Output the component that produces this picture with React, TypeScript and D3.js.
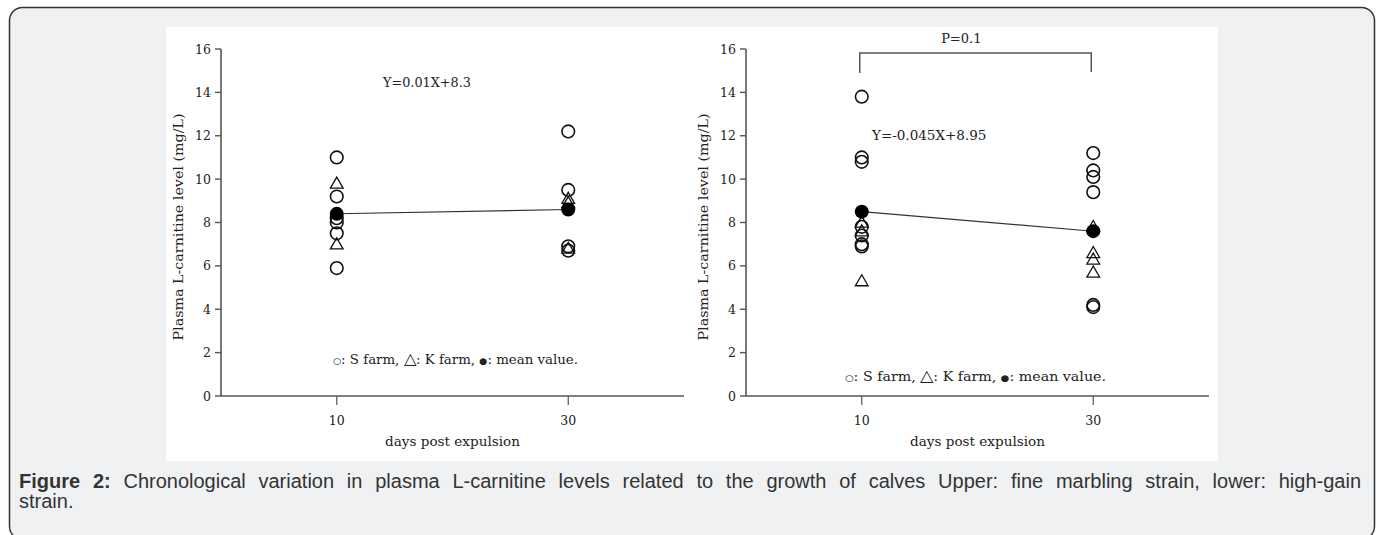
import React, { useLayoutEffect, useRef } from "react";
import * as d3 from "d3";

const days = [10, 30];
const yTicks = [0, 2, 4, 6, 8, 10, 12, 14, 16];
const xTicks = [10, 30];

const leftS10 = [11.0, 9.2, 8.2, 8.0, 7.5, 5.9];
const leftK10 = [9.8, 7.0];
const leftS30 = [12.2, 9.5, 6.9, 6.7];
const leftK30 = [9.1, 8.9, 6.8];
const leftMean = [8.4, 8.6];

const rightS10 = [13.8, 11.0, 10.8, 7.8, 7.4, 7.0, 6.9];
const rightK10 = [8.0, 7.6, 5.3];
const rightS30 = [11.2, 10.4, 10.1, 9.4, 4.2, 4.1];
const rightK30 = [7.8, 6.6, 6.3, 5.7];
const rightMean = [8.5, 7.6];

const captionLine1 =
  "Chronological variation in plasma L-carnitine levels related to the growth of calves Upper: fine marbling strain, lower: high-gain";
const captionLine2 = "strain.";

const W = 1378;
const H = 535;
const SERIF = "'DejaVu Serif', serif";
const SANS = "'Liberation Sans', Arial, sans-serif";
const INK = "#222";
const AXIS = "#555";

type PanelProps = {
  x0: number;
  s10: number[];
  k10: number[];
  s30: number[];
  k30: number[];
  mean: number[];
  eq: string;
  eqX: number;
  eqY: number;
  eqSize: number;
  legX: number;
  legY: number;
  legLen: number;
  bracket?: boolean;
};

function Panel(p: PanelProps) {
  const x = d3.scaleLinear().domain([0, 40]).range([p.x0, p.x0 + 463]);
  const y = d3.scaleLinear().domain([0, 16]).range([396, 49]);
  const tri = d3.symbol().type(d3.symbolTriangle).size(70)();
  const line = d3
    .line<number>()
    .x((_, i) => x(days[i]))
    .y((d) => y(d));
  const circles = (vals: number[], day: number) =>
    vals.map((v, i) => (
      <circle key={`c${day}-${i}`} cx={x(day)} cy={y(v)} r={6.3} fill="none" stroke="#111" strokeWidth={1.6} />
    ));
  const tris = (vals: number[], day: number) =>
    vals.map((v, i) => (
      <path key={`t${day}-${i}`} d={tri || ""} transform={`translate(${x(day)},${y(v) + 1})`} fill="none" stroke="#111" strokeWidth={1.3} />
    ));
  const left = x(0);
  return (
    <g>
      <line x1={left} x2={left} y1={y(16)} y2={y(0)} stroke={AXIS} strokeWidth={1.6} />
      {yTicks.map((t) => (
        <g key={t}>
          <line x1={left - 6} x2={left} y1={y(t)} y2={y(t)} stroke={AXIS} strokeWidth={1.4} />
          <text x={left - 10} y={y(t) + 4.5} textAnchor="end" fontFamily={SERIF} fontSize={12.5} fill={INK}>
            {t}
          </text>
        </g>
      ))}
      <line x1={left} x2={x(40)} y1={y(0)} y2={y(0)} stroke={AXIS} strokeWidth={1.6} />
      {xTicks.map((t) => (
        <g key={t}>
          <line x1={x(t)} x2={x(t)} y1={y(0)} y2={y(0) + 9} stroke={AXIS} strokeWidth={1.2} />
          <text x={x(t)} y={425} textAnchor="middle" fontFamily={SERIF} fontSize={12.5} fill={INK}>
            {t}
          </text>
        </g>
      ))}
      <text x={x(20)} y={446} textAnchor="middle" fontFamily={SERIF} fontSize={12.5} fill={INK} textLength={135} lengthAdjust="spacingAndGlyphs">
        days post expulsion
      </text>
      <text
        transform={`translate(${left - 38},227) rotate(-90)`}
        textAnchor="middle"
        fontFamily={SERIF}
        fontSize={12.5}
        fill={INK}
        textLength={227}
        lengthAdjust="spacingAndGlyphs"
      >
        Plasma L-carnitine level (mg/L)
      </text>
      <text x={p.eqX} y={p.eqY} fontFamily={SERIF} fontSize={p.eqSize} fill={INK}>
        {p.eq}
      </text>
      <text x={p.legX} y={p.legY} fontFamily={SERIF} fontSize={13} fill={INK} textLength={p.legLen} lengthAdjust="spacingAndGlyphs">
        <tspan fontSize={9}>○</tspan>
        <tspan>: S farm, </tspan>
        <tspan fontSize={16} fontFamily="'DejaVu Sans', sans-serif" fontWeight={200}>△</tspan>
        <tspan>: K farm, </tspan>
        <tspan fontSize={9}>●</tspan>
        <tspan>: mean value.</tspan>
      </text>
      {p.bracket && (
        <g>
          <path d={`M${x(10) - 2},${73} V${53} H${x(30) - 2} V${72}`} fill="none" stroke={AXIS} strokeWidth={1.5} />
          <text x={x(18.6)} y={43} textAnchor="middle" fontFamily={SERIF} fontSize={13} fill={INK}>
            P=0.1
          </text>
        </g>
      )}
      <path d={line(p.mean) || ""} fill="none" stroke="#333" strokeWidth={1.1} />
      {circles(p.s10, 10)}
      {circles(p.s30, 30)}
      {tris(p.k10, 10)}
      {tris(p.k30, 30)}
      {p.mean.map((v, i) => (
        <circle key={`m${i}`} cx={x(days[i])} cy={y(v)} r={7} fill="#000" />
      ))}
    </g>
  );
}

export default function App() {
  const capRef = useRef<SVGTextElement>(null);
  const cap2Ref = useRef<SVGTextElement>(null);
  useLayoutEffect(() => {
    const el = capRef.current;
    if (!el) return;
    const full = "Figure 2: " + captionLine1;
    const spaces = (full.match(/ /g) || []).length;
    el.setAttribute("word-spacing", "0");
    el.setAttribute("font-size", "18");
    const len18 = el.getComputedTextLength();
    const fs = Math.min(20, (18 * (1342 - spaces * 1.5)) / len18);
    el.setAttribute("font-size", String(fs));
    if (cap2Ref.current) cap2Ref.current.setAttribute("font-size", String(fs));
    const len = el.getComputedTextLength();
    el.setAttribute("word-spacing", String((1342 - len) / spaces));
  }, []);
  return (
    <svg width={W} height={H} style={{ position: "absolute", left: 0, top: 0, display: "block" }} xmlns="http://www.w3.org/2000/svg">
      <rect x={0} y={0} width={W} height={H} fill="#fff" />
      <rect x={9.5} y={7.5} width={1365} height={532} rx={13} ry={13} fill="#f0f1f3" stroke="#333" strokeWidth={1.5} />
      <rect x={166} y={27} width={1052} height={434} fill="#fff" />
      <Panel
        x0={221}
        s10={leftS10}
        k10={leftK10}
        s30={leftS30}
        k30={leftK30}
        mean={leftMean}
        eq="Y=0.01X+8.3"
        eqX={383}
        eqY={87}
        eqSize={12.8}
        legX={333}
        legY={364}
        legLen={245}
      />
      <Panel
        x0={746}
        s10={rightS10}
        k10={rightK10}
        s30={rightS30}
        k30={rightK30}
        mean={rightMean}
        eq="Y=-0.045X+8.95"
        eqX={872}
        eqY={140}
        eqSize={13.5}
        legX={845}
        legY={381}
        legLen={261}
        bracket
      />
      <text ref={capRef} x={19} y={488} fontFamily={SANS} fontSize={18} fill="#333">
        <tspan fontWeight="bold">Figure 2:</tspan> {captionLine1}
      </text>
      <text ref={cap2Ref} x={19} y={508} fontFamily={SANS} fontSize={18} fill="#333">
        {captionLine2}
      </text>
    </svg>
  );
}
